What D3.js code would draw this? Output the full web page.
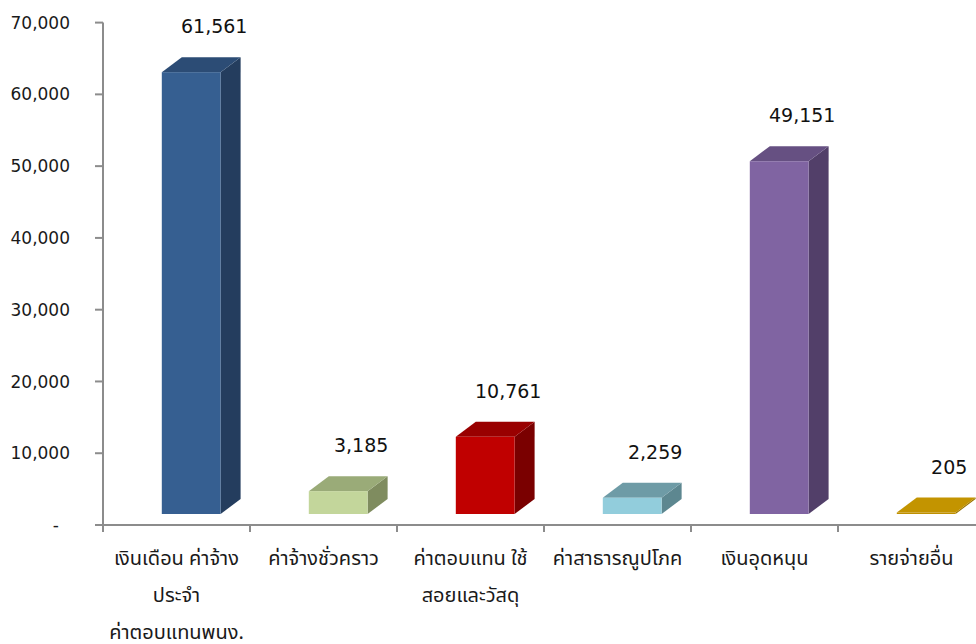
<!DOCTYPE html>
<html>
<head>
<meta charset="utf-8">
<script src="https://cdn.jsdelivr.net/npm/d3@7"></script>
<style>
  html, body { margin: 0; padding: 0; background: #ffffff; }
  svg { display: block; }
</style>
</head>
<body>
<svg id="chart" width="976" height="644"></svg>
<script>
// ---- data ----
const categories = [
  ["เงินเดือน ค่าจ้าง", "ประจำ", "ค่าตอบแทนพนง."],
  ["ค่าจ้างชั่วคราว"],
  ["ค่าตอบแทน ใช้", "สอยและวัสดุ"],
  ["ค่าสาธารณูปโภค"],
  ["เงินอุดหนุน"],
  ["รายจ่ายอื่น"]
];
const values = [61561, 3185, 10761, 2259, 49151, 205];
const yTicks = [0, 10000, 20000, 30000, 40000, 50000, 60000, 70000];
const frontColors = ["#365f91", "#c3d69b", "#c00000", "#92cddc", "#8064a2", "#bf9000"];
const topColors   = ["#2c4c75", "#9aab78", "#990000", "#6e9ba6", "#665082", "#c39400"];
const sideColors  = ["#243d5e", "#7f8c5f", "#7a0000", "#5d8790", "#523f69", "#9a7400"];

// ---- layout ----
const svg = d3.select("#chart");
const axisX = 103, baseY = 525, topY = 22.6;
const depthX = 20, depthY = 15, floorLift = 11;
const ids = categories.map((c, i) => i);

const x = d3.scaleBand().domain(ids).range([axisX, axisX + 6 * 147]).paddingInner(0).paddingOuter(0);
const y = d3.scaleLinear().domain([0, 70000]).range([baseY, topY]);
const axisColor = "#8c8c8c";
const numFont = "'DejaVu Sans', Verdana, sans-serif";
const thaiFont = "Tahoma, 'Noto Sans Thai', 'Noto Looped Thai', 'Noto Sans', sans-serif";

// ---- y axis ----
const yAxis = svg.append("g");
yAxis.append("line")
  .attr("x1", axisX).attr("x2", axisX)
  .attr("y1", y(70000)).attr("y2", baseY + 7)
  .attr("stroke", axisColor).attr("stroke-width", 2);
yAxis.selectAll("line.tick").data(yTicks).enter().append("line")
  .attr("class", "tick")
  .attr("x1", axisX - 8).attr("x2", axisX)
  .attr("y1", d => y(d)).attr("y2", d => y(d))
  .attr("stroke", axisColor).attr("stroke-width", 2);
yAxis.selectAll("text").data(yTicks).enter().append("text")
  .attr("x", d => d === 0 ? 59 : 70)
  .attr("y", d => y(d))
  .attr("dy", "0.36em")
  .attr("text-anchor", "end")
  .attr("font-family", numFont)
  .attr("font-size", 17)
  .attr("fill", "#1a1a1a")
  .text(d => d === 0 ? "-" : d3.format(",")(d));

// ---- x axis ----
const xAxis = svg.append("g");
xAxis.append("line")
  .attr("x1", axisX - 8).attr("x2", 976)
  .attr("y1", baseY).attr("y2", baseY)
  .attr("stroke", axisColor).attr("stroke-width", 2);
xAxis.selectAll("line.ctick").data(ids.slice(1)).enter().append("line")
  .attr("class", "ctick")
  .attr("x1", d => x(d)).attr("x2", d => x(d))
  .attr("y1", baseY).attr("y2", baseY + 7)
  .attr("stroke", axisColor).attr("stroke-width", 2);

// category labels
const catG = xAxis.selectAll("text.cat").data(ids).enter().append("text")
  .attr("class", "cat")
  .attr("text-anchor", "middle")
  .attr("font-family", thaiFont)
  .attr("font-size", 20)
  .attr("fill", "#1a1a1a");
catG.each(function(d) {
  const t = d3.select(this);
  categories[d].forEach((line, j) => {
    t.append("tspan")
      .attr("x", x(d) + x.bandwidth() / 2)
      .attr("y", 565 + j * 37)
      .text(line);
  });
});

// ---- 3D bars ----
const bw = x.bandwidth() * 0.4;
const bars = svg.append("g").selectAll("g").data(ids).enter().append("g");
bars.each(function(i) {
  const g = d3.select(this);
  const x0 = x(i) + x.bandwidth() * 0.4;
  const x1 = x0 + bw;
  const yb = baseY - floorLift;
  const yt = y(values[i]) - floorLift;
  // right side
  g.append("path")
    .attr("d", `M${x1},${yt} L${x1 + depthX},${yt - depthY} L${x1 + depthX},${yb - depthY} L${x1},${yb} Z`)
    .attr("fill", sideColors[i]);
  // top
  g.append("path")
    .attr("d", `M${x0},${yt} L${x0 + depthX},${yt - depthY} L${x1 + depthX},${yt - depthY} L${x1},${yt} Z`)
    .attr("fill", topColors[i]);
  // front
  g.append("rect")
    .attr("x", x0).attr("y", yt)
    .attr("width", bw).attr("height", Math.max(0, yb - yt))
    .attr("fill", frontColors[i]);
  // value label
  g.append("text")
    .attr("x", x0 + bw / 2 + depthX + 3)
    .attr("y", yt - depthY - 24)
    .attr("text-anchor", "middle")
    .attr("font-family", numFont)
    .attr("font-size", 19)
    .attr("fill", "#111")
    .text(d3.format(",")(values[i]));
});
</script>
</body>
</html>
